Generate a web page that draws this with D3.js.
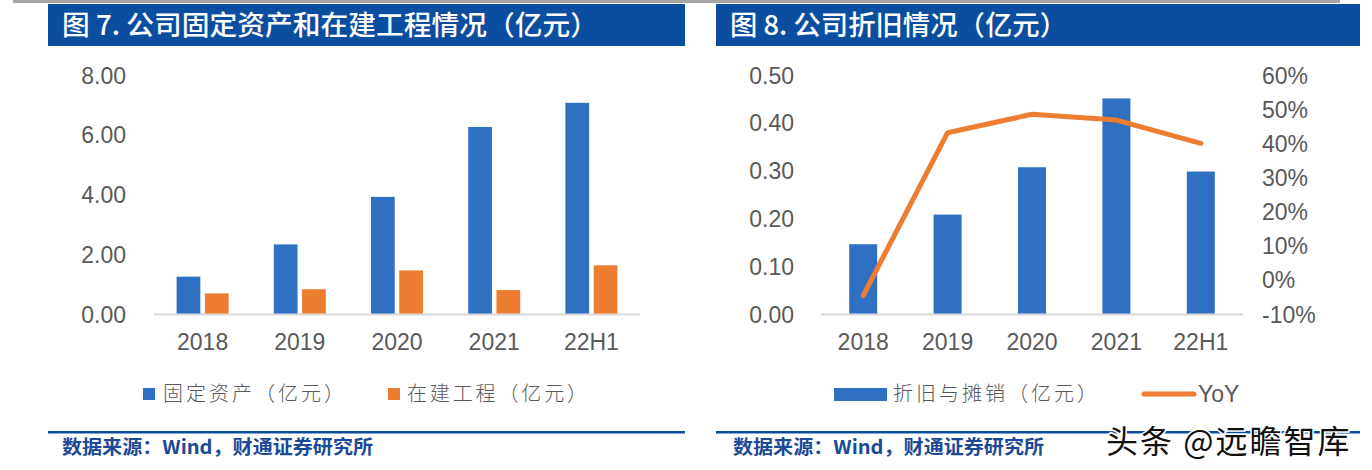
<!DOCTYPE html>
<html><head><meta charset="utf-8">
<script src="https://cdn.jsdelivr.net/npm/d3@7"></script>
<style>
html,body{margin:0;padding:0;background:#fff;}
svg{display:block;}
</style></head>
<body>
<svg id="c" width="1372" height="470"></svg>
<script>
// ---------- data ----------
const categories = ["2018", "2019", "2020", "2021", "22H1"];
const fixedAssets = [1.25, 2.33, 3.92, 6.26, 7.07];      // 固定资产（亿元）
const constructionInProgress = [0.69, 0.83, 1.46, 0.80, 1.63]; // 在建工程（亿元）
const depreciation = [0.146, 0.208, 0.307, 0.451, 0.298]; // 折旧与摊销（亿元）
const yoy = [-0.046, 0.431, 0.485, 0.468, 0.400];       // YoY
const leftTicks = [0, 2, 4, 6, 8];
const rightTicksL = [0, 0.1, 0.2, 0.3, 0.4, 0.5];
const rightTicksR = [-0.1, 0, 0.1, 0.2, 0.3, 0.4, 0.5, 0.6];
const seriesNames1 = ["固定资产（亿元）", "在建工程（亿元）"];
const seriesNames2 = ["折旧与摊销（亿元）", "YoY"];
const titles = ["图 7. 公司固定资产和在建工程情况（亿元）", "图 8. 公司折旧情况（亿元）"];
const sourceText = "数据来源：Wind，财通证券研究所";
const watermark = "头条 @远瞻智库";

const BLUE = "#3070C3", ORANGE = "#ED7D31", TXT = "#595959", HEAD = "#0B4EA0";
const NUMF = "'Liberation Sans', Arial, sans-serif";
const CJKF = "'Noto Sans CJK SC', sans-serif";
const NUMSIZE = 23;

const svg = d3.select("#c");

// top gray rule
svg.append("rect").attr("x", 13).attr("y", 0).attr("width", 1327).attr("height", 3).attr("fill", "#A6A6A6");

// headers
function header(x0, x1, title, tl) {
  svg.append("rect").attr("x", x0).attr("y", 4).attr("width", x1 - x0).attr("height", 42).attr("fill", HEAD);
  svg.append("text").attr("x", x0 + 14).attr("y", 35).attr("fill", "#fff")
    .attr("font-family", CJKF).attr("font-weight", 500).attr("font-size", 27)
    .attr("textLength", tl).attr("lengthAdjust", "spacingAndGlyphs").text(title);
}
header(48, 685, titles[0], 536);
header(716, 1360, titles[1], 337);

// footers
function footer(x0, x1, tx) {
  svg.append("rect").attr("x", x0).attr("y", 431).attr("width", x1 - x0).attr("height", 2.5).attr("fill", HEAD);
  svg.append("text").attr("x", tx).attr("y", 454).attr("fill", "#1C4A96")
    .attr("font-family", CJKF).attr("font-weight", 700).attr("font-size", 19)
    .attr("textLength", 311).attr("lengthAdjust", "spacingAndGlyphs").text(sourceText);
}
footer(48, 685, 62);
footer(716, 1360, 733);

function styleNum(sel, dy) {
  sel.selectAll("text").attr("font-family", NUMF).attr("font-size", NUMSIZE).attr("fill", TXT).attr("dy", dy);
}

// ---------- chart 1 ----------
const y1 = d3.scaleLinear().domain([0, 8]).range([314, 75]);
const x1 = d3.scaleBand().domain(categories).range([154, 640]).paddingInner(0.465).paddingOuter(0.2325);
const xs = d3.scaleBand().domain([0, 1]).range([0, x1.bandwidth()]).paddingInner(0.16);

const g1 = svg.append("g");
const ax1 = g1.append("g").attr("transform", "translate(126,0)")
  .call(d3.axisLeft(y1).tickValues(leftTicks).tickFormat(d3.format(".2f")).tickSize(0).tickPadding(0));
ax1.select(".domain").remove();
styleNum(ax1, "0.35em");

[fixedAssets, constructionInProgress].forEach((vals, si) => {
  g1.selectAll(null).data(vals).enter().append("rect")
    .attr("x", (d, i) => x1(categories[i]) + xs(si))
    .attr("width", xs.bandwidth())
    .attr("y", d => y1(d)).attr("height", d => y1(0) - y1(d))
    .attr("fill", si === 0 ? BLUE : ORANGE);
});
g1.append("line").attr("x1", 154).attr("x2", 640).attr("y1", 314.5).attr("y2", 314.5)
  .attr("stroke", "#D9D9D9").attr("stroke-width", 2);
const xa1 = g1.append("g").attr("transform", "translate(0,333.5)")
  .call(d3.axisBottom(x1).tickSize(0).tickPadding(0));
xa1.select(".domain").remove();
styleNum(xa1, "0.71em");

// legend 1
const lg1 = [{x: 143, c: BLUE, t: seriesNames1[0], tx: 163, tl: 181}, {x: 388, c: ORANGE, t: seriesNames1[1], tx: 407, tl: 180}];
lg1.forEach(l => {
  svg.append("rect").attr("x", l.x).attr("y", 388).attr("width", 12).attr("height", 12).attr("fill", l.c);
  svg.append("text").attr("x", l.tx).attr("y", 401).attr("fill", TXT)
    .attr("font-family", CJKF).attr("font-weight", 300).attr("font-size", 20)
    .attr("textLength", l.tl).attr("lengthAdjust", "spacing").text(l.t);
});

// ---------- chart 2 ----------
const y2 = d3.scaleLinear().domain([0, 0.5]).range([314, 75]);
const y2r = d3.scaleLinear().domain([-0.1, 0.6]).range([314, 75]);
const x2 = d3.scaleBand().domain(categories).range([821, 1243]).paddingInner(0.668).paddingOuter(0.334);
const g2 = svg.append("g");
const ax2 = g2.append("g").attr("transform", "translate(794,0)")
  .call(d3.axisLeft(y2).tickValues(rightTicksL).tickFormat(d3.format(".2f")).tickSize(0).tickPadding(0));
ax2.select(".domain").remove();
styleNum(ax2, "0.35em");
const ax2r = g2.append("g").attr("transform", "translate(1262,0)")
  .call(d3.axisRight(y2r).tickValues(rightTicksR).tickFormat(d3.format(".0%")).tickSize(0).tickPadding(0));
ax2r.select(".domain").remove();
styleNum(ax2r, "0.35em");
ax2r.selectAll("text").text(d => d < 0 ? "-" + Math.round(-d * 100) + "%" : Math.round(d * 100) + "%");

g2.selectAll(null).data(depreciation).enter().append("rect")
  .attr("x", (d, i) => x2(categories[i])).attr("width", x2.bandwidth())
  .attr("y", d => y2(d)).attr("height", d => y2(0) - y2(d)).attr("fill", BLUE);
g2.append("line").attr("x1", 821).attr("x2", 1243).attr("y1", 314.5).attr("y2", 314.5)
  .attr("stroke", "#D9D9D9").attr("stroke-width", 2);
const line = d3.line().x((d, i) => x2(categories[i]) + x2.bandwidth() / 2).y(d => y2r(d));
g2.append("path").datum(yoy).attr("d", line).attr("fill", "none")
  .attr("stroke", ORANGE).attr("stroke-width", 5).attr("stroke-linecap", "round").attr("stroke-linejoin", "round");
const xa2 = g2.append("g").attr("transform", "translate(0,333.5)")
  .call(d3.axisBottom(x2).tickSize(0).tickPadding(0));
xa2.select(".domain").remove();
styleNum(xa2, "0.71em");

// legend 2
svg.append("rect").attr("x", 834).attr("y", 388).attr("width", 53).attr("height", 13).attr("fill", BLUE);
svg.append("text").attr("x", 893).attr("y", 401).attr("fill", TXT)
  .attr("font-family", CJKF).attr("font-weight", 300).attr("font-size", 20)
  .attr("textLength", 204).attr("lengthAdjust", "spacing").text(seriesNames2[0]);
svg.append("line").attr("x1", 1144).attr("x2", 1194).attr("y1", 394).attr("y2", 394)
  .attr("stroke", ORANGE).attr("stroke-width", 5).attr("stroke-linecap", "round");
svg.append("text").attr("x", 1198).attr("y", 402).attr("fill", TXT)
  .attr("font-family", NUMF).attr("font-size", 23).text(seriesNames2[1]);

// watermark
svg.append("text").attr("x", 1106).attr("y", 453).attr("fill", "#111")
  .attr("stroke", "#fff").attr("stroke-width", 3).attr("paint-order", "stroke")
  .attr("font-family", CJKF).attr("font-weight", 400).attr("font-size", 32)
  .attr("letter-spacing", 2)
  .text(watermark);
</script>
</body></html>
